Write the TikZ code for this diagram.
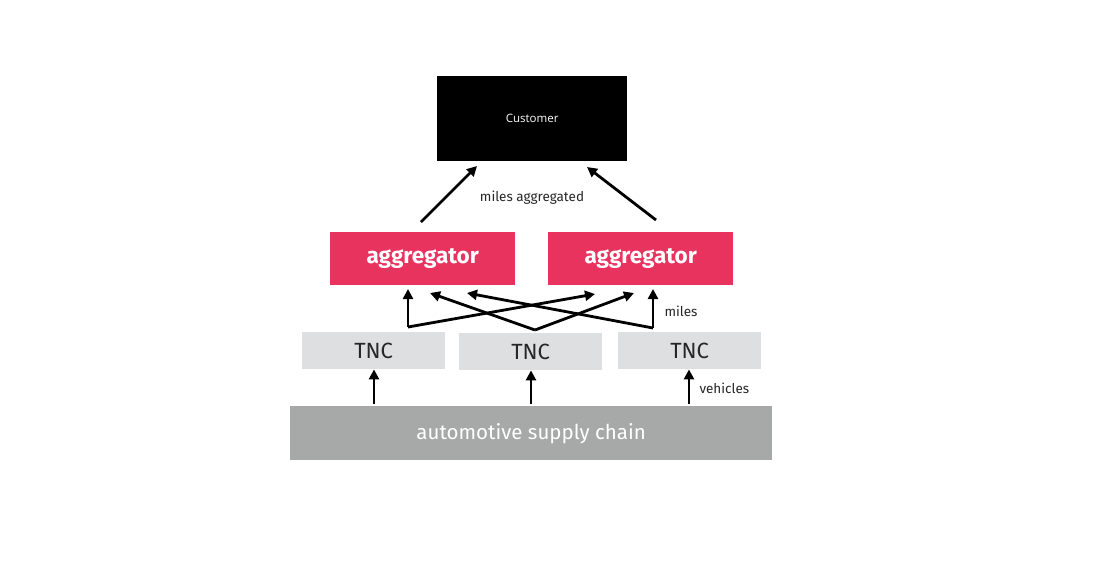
\documentclass[tikz,border=0pt]{standalone}
\usepackage{fontspec}
\setmainfont{Fira Sans}
\newfontfamily\custfont{Open Sans}
\usetikzlibrary{arrows.meta}
\definecolor{aggpink}{HTML}{E8335F}
\definecolor{tncgrey}{HTML}{DEDFE1}
\definecolor{chaingrey}{HTML}{A7A9A9}
\begin{document}
\begin{tikzpicture}[x=1pt,y=-1pt,
  box/.style={draw=none,inner sep=0pt,anchor=north west},
  aggbox/.style={box,fill=aggpink,text=white,minimum width=185pt,minimum height=53pt,font=\fontsize{22.5}{24}\selectfont\bfseries},
  tncbox/.style={box,fill=tncgrey,text=black!85,minimum width=143pt,minimum height=37pt,font=\fontsize{22}{24}\selectfont},
  arr/.style={-{Triangle[length=10pt,width=10pt]},line width=2.8pt,black},
  lab/.style={font=\fontsize{13.5}{15}\selectfont,text=black!85}
]
\useasboundingbox (0,0) rectangle (1116,571);
\fill[white] (0,0) rectangle (1116,571);
\node[box,fill=black,text=white,minimum width=190pt,minimum height=85pt,font=\custfont\fontsize{11.5}{13}\selectfont] (cust) at (437,76) {Customer};
\node[aggbox] (agg1) at (330,232) {aggregator};
\node[aggbox] (agg2) at (548,232) {aggregator};
\node[tncbox] (tnc1) at (302,332) {TNC};
\node[tncbox] (tnc2) at (459,333) {TNC};
\node[tncbox] (tnc3) at (618,332) {TNC};
\node[box,fill=chaingrey,text=white,minimum width=482pt,minimum height=54pt,font=\fontsize{20.5}{22}\selectfont] (chain) at (290,406) {automotive supply chain};
\node[lab] (ma) at (532,198) {miles aggregated};
\node[lab,anchor=west] (ml) at (661,311) {miles};
\node[lab,anchor=west] (vh) at (696,388) {vehicles};
% customer arrows
\coordinate (c1s) at (421,222);
\coordinate (c1e) at (477,166);
\coordinate (c2s) at (656,220);
\coordinate (c2e) at (587,167);
\draw[arr] (c1s) -- (c1e);
\draw[arr] (c2s) -- (c2e);
% supply arrows
\coordinate (s1) at (374,404);
\coordinate (s2) at (531,404);
\coordinate (s3) at (689,404);
\draw[arr] (s1) -- (tnc1.south -| s1);
\draw[arr] (s2) -- (tnc2.south -| s2);
\draw[arr] (s3) -- (tnc3.south -| s3);
% TNC to aggregator
\coordinate (j1) at (408,327);
\coordinate (j2) at (535,330);
\coordinate (j3) at (653,328);
\draw[arr] (j1) -- (408,289);
\draw[arr] (j1) -- (595,294);
\draw[arr] (j2) -- (430,293);
\draw[arr] (j2) -- (634,293);
\draw[arr] (j3) -- (653,289);
\draw[arr] (j3) -- (467,293);
\end{tikzpicture}
\end{document}
